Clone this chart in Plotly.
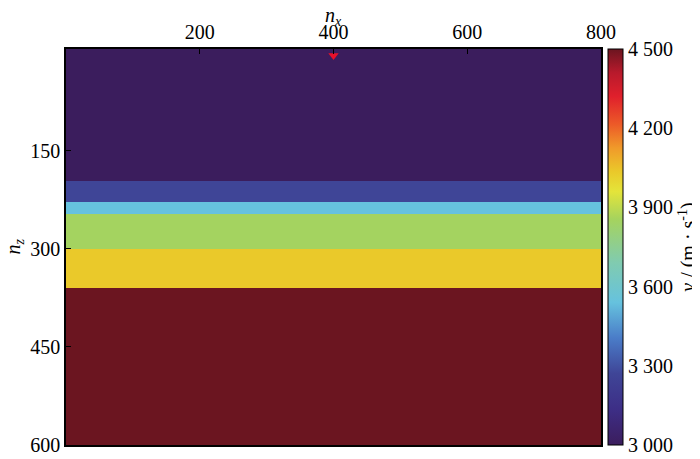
import plotly.graph_objects as go

# layered velocity model (nz depth edges, nx extent, velocities in m/s)
X_EDGES = [0, 800]
DEPTH_EDGES = [-6, 196, 228, 247, 300, 360, 600]
LAYER_VELOCITY = [3000, 3270, 3540, 3850, 4035, 4500]

SOURCE_X = [400]
SOURCE_Z = [4]

CB_TICKS = [3000, 3300, 3600, 3900, 4200, 4500]
CB_LABELS = ["3 000", "3 300", "3 600", "3 900", "4 200", "4 500"]

FONT = "Liberation Serif"
TXT = dict(family=FONT, size=20, color="black")

colorscale = [
    [0.00, "#3b1d5d"],
    [0.09, "#3d2e86"],
    [0.18, "#3f4597"],
    [0.27, "#4a7cc8"],
    [0.36, "#66c2de"],
    [0.46, "#80cbb0"],
    [0.57, "#a5d35e"],
    [0.64, "#e4e43a"],
    [0.69, "#eac92a"],
    [0.75, "#f09a2a"],
    [0.81, "#ec5a28"],
    [0.88, "#e0202c"],
    [0.94, "#b81a2c"],
    [1.00, "#6b1520"],
]

fig = go.Figure()

fig.add_trace(go.Heatmap(
    x=X_EDGES,
    y=DEPTH_EDGES,
    z=[[v] for v in LAYER_VELOCITY],
    zmin=3000, zmax=4500,
    colorscale=colorscale,
    colorbar=dict(
        x=1.013, xanchor="left", xpad=0,
        y=0, yanchor="bottom", len=1, lenmode="fraction", ypad=0,
        thickness=15,
        outlinecolor="black", outlinewidth=1,
        tickvals=CB_TICKS, ticktext=CB_LABELS,
        ticks="", ticklen=0,
        tickfont=TXT,
        title=dict(text="<i>v</i> / (m · s<sup>-1</sup>)", side="right", font=TXT),
    ),
    hoverinfo="skip",
))

# source position
fig.add_trace(go.Scatter(
    x=SOURCE_X, y=SOURCE_Z,
    mode="markers",
    marker=dict(symbol="triangle-down", size=9, color="#e8102a"),
    cliponaxis=False,
    showlegend=False,
))

fig.update_xaxes(
    side="top", range=[0, 800],
    tickvals=[200, 400, 600, 800],
    ticks="inside", ticklen=5, tickcolor="black",
    showline=True, linecolor="black", linewidth=1.5, mirror=True,
    showgrid=False, zeroline=False, automargin=False,
    tickfont=TXT,
)
fig.update_yaxes(
    range=[600, -6],
    tickvals=[150, 300, 450, 600],
    ticks="inside", ticklen=5, tickcolor="black",
    showline=True, linecolor="black", linewidth=1.5, mirror=True,
    showgrid=False, zeroline=False, automargin=False,
    tickfont=TXT,
)

# axis titles as annotations so they sit where the reference has them
fig.add_annotation(text="<i>n<sub>x</sub></i>", xref="paper", yref="paper",
                   x=0.5, y=1, xanchor="center", yanchor="bottom", yshift=19,
                   showarrow=False, font=TXT, borderpad=0)
fig.add_annotation(text="<i>n<sub>z</sub></i>", xref="paper", yref="paper",
                   x=0, y=0.5, xanchor="right", yanchor="middle", xshift=-39,
                   textangle=-90, showarrow=False, font=TXT, borderpad=0)

# page body adds ~8px offset, so the figure is drawn 8px smaller
fig.update_layout(
    width=692, height=451,
    margin=dict(l=58, r=99, t=41, b=14, autoexpand=False),
    font=TXT,
    paper_bgcolor="white",
    plot_bgcolor="white",
    showlegend=False,
)

fig.write_html("out.html")
